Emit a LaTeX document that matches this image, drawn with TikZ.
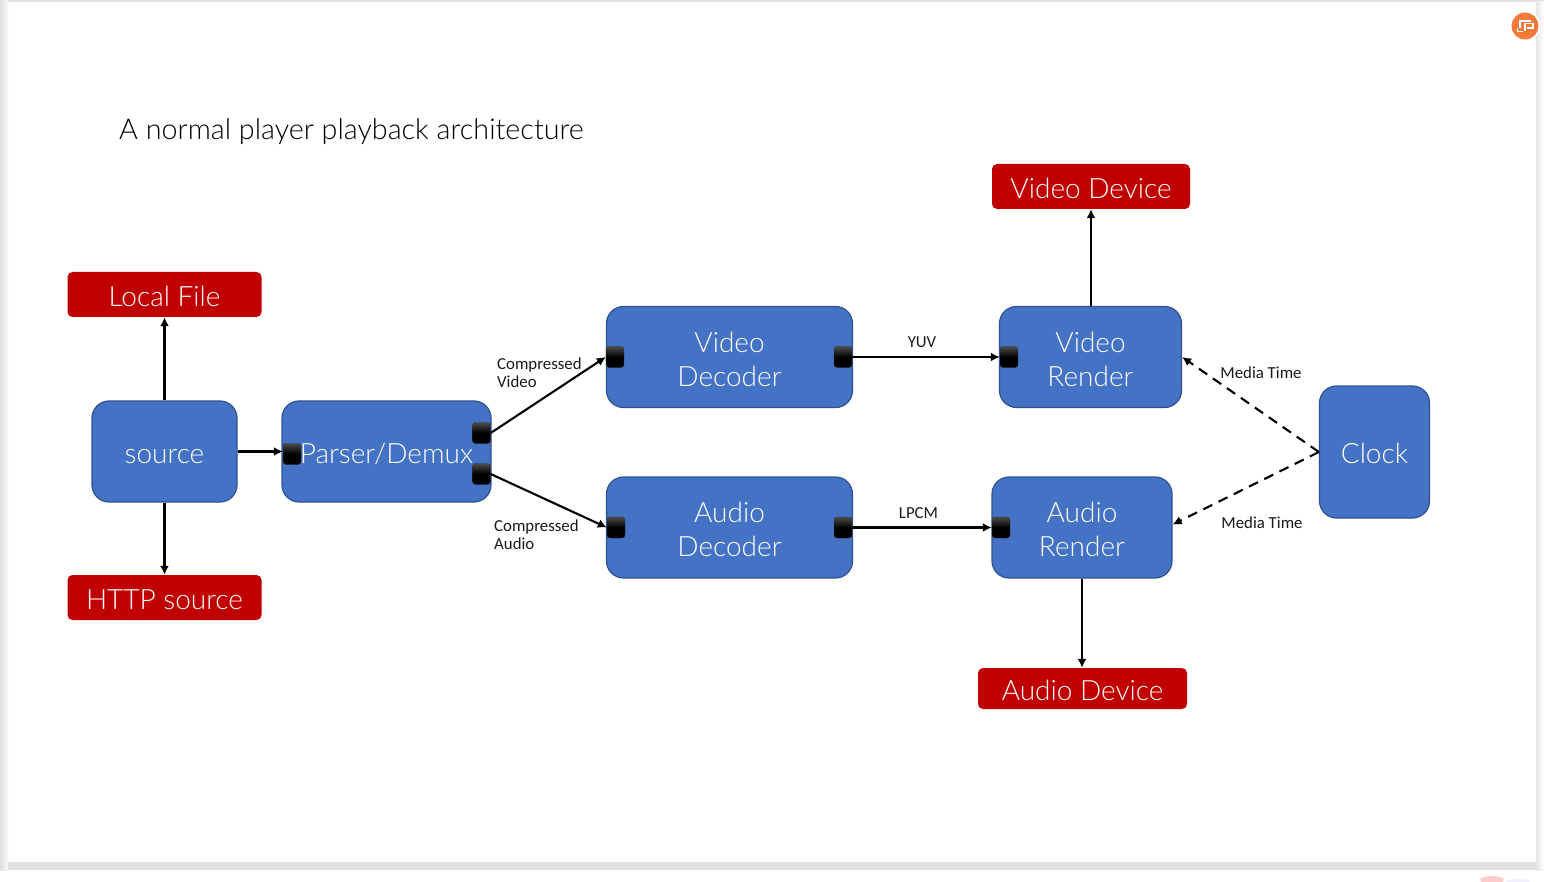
\documentclass[tikz,border=0pt]{standalone}
\usepackage{fontspec}
\setmainfont{Lato}[UprightFont=* Light]
\newfontfamily\labfont{Carlito}
\usetikzlibrary{arrows.meta,calc,shadings}
\definecolor{boxblue}{HTML}{4472C4}
\definecolor{boxedge}{HTML}{2F528F}
\definecolor{devred}{HTML}{C00000}
\definecolor{badge}{HTML}{F47A3C}
\newcommand{\dn}[2][2pt]{\raisebox{-#1}[\height][\depth]{#2}}
\tikzset{
 x=1pt,y=-1pt,
 bluebox/.style={draw=boxedge,line width=1.2pt,fill=boxblue,rounded corners=17pt,text=white,align=center,font=\fontsize{28}{34}\selectfont,inner sep=0pt,anchor=center},
 redbox/.style={fill=devred,rounded corners=5pt,text=white,align=center,font=\fontsize{28}{34}\selectfont,inner sep=0pt,anchor=center},
 port/.style={draw=black!80,rounded corners=3pt,minimum width=18pt,minimum height=21pt,inner sep=0pt,top color=black!70,bottom color=black,middle color=black},
 conn/.style={line width=2.1pt,-{Latex[length=9pt,width=9pt]}},
 dashconn/.style={conn,dash pattern=on 10pt off 7pt},
 lab/.style={font=\labfont\fontsize{16.8}{19}\selectfont,align=left,inner sep=0pt,text=black!90},
}
\begin{document}
\begin{tikzpicture}
\useasboundingbox (0,0) rectangle (1544,882);
\fill[white] (0,0) rectangle (1544,882);
% window chrome
\fill[black!12] (0,0) rectangle (1544,2);
\fill[black!12] (0,862) rectangle (1536,870);
\fill[black!12] (1536,0) rectangle (1544,2);
\shade[left color=black!12,right color=black!3] (0,0) rectangle (8,870);
\shade[left color=black!10,right color=white] (1536,2) rectangle (1544,870);
\fill[red!20] (1492,880) ellipse (12 and 4);
\fill[blue!6] (1518,881) ellipse (12 and 2);
% title
\node[anchor=west,inner sep=0pt,font=\fontsize{28.7}{36}\selectfont,text=black] (title) at (119,131.7) {A normal player playback architecture};
% blue boxes
\node[bluebox,minimum width=145pt,minimum height=101pt] (source) at (164.5,451.5) {\dn[5pt]{source}};
\node[bluebox,minimum width=209pt,minimum height=101pt] (parser) at (386.5,451.5) {\dn[2.5pt]{Parser/Demux}};
\node[bluebox,minimum width=246pt,minimum height=101pt] (vdec) at (729.5,357) {\dn{Video}\\\dn{Decoder}};
\node[bluebox,minimum width=246pt,minimum height=101pt] (adec) at (729.5,527.5) {\dn{Audio}\\\dn{Decoder}};
\node[bluebox,minimum width=182pt,minimum height=101pt] (vren) at (1090.5,357) {\dn{Video}\\\dn{Render}};
\node[bluebox,minimum width=180pt,minimum height=101pt] (aren) at (1082,527.5) {\dn{Audio}\\\dn{Render}};
\node[bluebox,minimum width=110pt,minimum height=132pt] (clock) at (1374.5,452) {\dn[1.75pt]{Clock}};
% red boxes
\node[redbox,minimum width=194pt,minimum height=45pt] (local) at (164.5,294.5) {\dn{Local File}};
\node[redbox,minimum width=194pt,minimum height=45pt] (http) at (164.5,597.5) {\dn{HTTP source}};
\node[redbox,minimum width=198pt,minimum height=45pt] (vdev) at (1091,186.5) {\dn{Video Device}};
\node[redbox,minimum width=209pt,minimum height=41pt] (adev) at (1082.5,688.5) {\dn{Audio Device}};
% ports
\node[port] (pin) at (292,454) {};
\node[port] (pv) at (481.5,433) {};
\node[port] (pa) at (481.5,474) {};
\node[port] (vdi) at (615,357) {};
\node[port] (vdo) at (843,357) {};
\node[port] (adi) at (616,527.5) {};
\node[port] (ado) at (843,527.5) {};
\node[port] (vri) at (1009,357) {};
\node[port] (ari) at (1001,527.5) {};
% connectors
\draw[conn] (source.north -| local.south) -- (local.south);
\draw[conn] (source.south -| http.north) -- (http.north);
\draw[conn] (source.east) -- (source.east -| pin.west);
\draw[conn] (pv.east) -- (vdi.west);
\draw[conn] (pa.east) -- (adi.west);
\draw[conn] (vdo.east) -- (vri.west);
\draw[conn] (ado.east) -- (ari.west);
\draw[conn] (vren.north -| vdev.south) -- (vdev.south);
\draw[conn] (aren.south) -- (aren.south |- adev.north);
\draw[dashconn] (clock.west) -- (vren.east);
\draw[dashconn] (clock.west) -- ($(aren.east)+(0,-3)$);
% labels
\node[lab,anchor=west] (lcv) at (497,373) {Compressed\\[-1pt]Video};
\node[lab,anchor=west] (lca) at (494,535) {Compressed\\[-1pt]Audio};
\node[lab] (lyuv) at (922,342.5) {YUV};
\node[lab] (llpcm) at (918.5,513) {LPCM};
\node[lab] (lmt1) at (1261,372.5) {Media Time};
\node[lab] (lmt2) at (1262,522.5) {Media Time};
% badge
\fill[white] (1525,26) circle (15);
\fill[badge] (1525,26) circle (13.5);
\draw[white,line width=1.1pt] (1520,28) -- (1520,21) -- (1531,21);
\draw[white,line width=1.1pt] (1525,31) -- (1525,23.5) -- (1533,23.5) -- (1533,28) -- (1527,28);
\draw[white,line width=1pt] (1517,28) -- (1517,32) -- (1523,32);
\end{tikzpicture}
\end{document}
